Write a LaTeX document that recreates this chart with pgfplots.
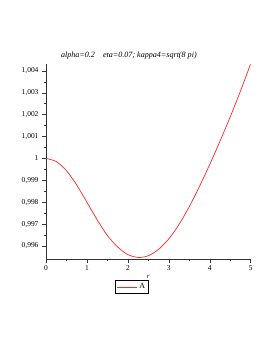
\documentclass[border=0pt]{standalone}
\usepackage{fontspec}
\setmainfont{Liberation Serif}
\usepackage{pgfplots}
\pgfplotsset{compat=1.18}
\begin{document}
\begin{tikzpicture}
\useasboundingbox (0,0) rectangle (273bp,353bp);
\begin{axis}[
  at={(46bp,94bp)}, anchor=south west,
  scale only axis, width=204.7bp, height=194.7bp,
  xmin=0, xmax=5, ymin=0.99541, ymax=1.0043,
  axis x line=bottom, axis y line=left,
  axis line style={-, line width=0.6bp, black!80},
  xtick={0,1,2,3,4,5},
  ytick={0.996,0.997,0.998,0.999,1,1.001,1.002,1.003,1.004},
  minor tick num=1,
  tick align=outside,
  major tick length=4bp, minor tick length=2bp,
  every tick/.style={black!80, line width=0.5bp},
  /pgf/number format/assume math mode=true,
  yticklabel style={/pgf/number format/.cd, fixed, precision=3, use comma},
  ticklabel style={font=\fontsize{7.5}{9}\selectfont},
  xticklabel style={yshift=1bp},
  xlabel={\textit{r}},
  xlabel style={at={(axis description cs:0.5,-0.09)}, anchor=center, font=\fontsize{7}{8}\selectfont},
  title={\textit{alpha=0.2\quad eta=0.07; kappa4=sqrt(8 pi)}},
  title style={at={(axis description cs:0.405,1.012)}, anchor=center, font=\fontsize{8.1}{9}\selectfont},
  legend style={at={(axis description cs:0.42,-0.144)}, anchor=center, draw=black, line width=0.6bp,
    font=\fontsize{8}{9}\selectfont, inner sep=1bp},
  legend image code/.code={\draw[#1] (0bp,0bp) -- (20bp,0bp);},
]
\addplot[red!85!white, line width=0.7bp, smooth] coordinates {
(0,1.00000) (0.25,0.99986) (0.5,0.99944) (0.75,0.99879) (1.0,0.99800)
(1.25,0.99720) (1.5,0.99648) (1.75,0.99596) (2.0,0.99561) (2.26,0.99548)
(2.5,0.99556) (2.75,0.99585) (3.0,0.99633) (3.25,0.99699) (3.5,0.99780)
(3.75,0.99873) (4.0,0.99973) (4.25,1.00079) (4.5,1.00190) (4.75,1.00308) (5.0,1.00433)
};
\addlegendentry{A}
\end{axis}
\end{tikzpicture}
\end{document}
